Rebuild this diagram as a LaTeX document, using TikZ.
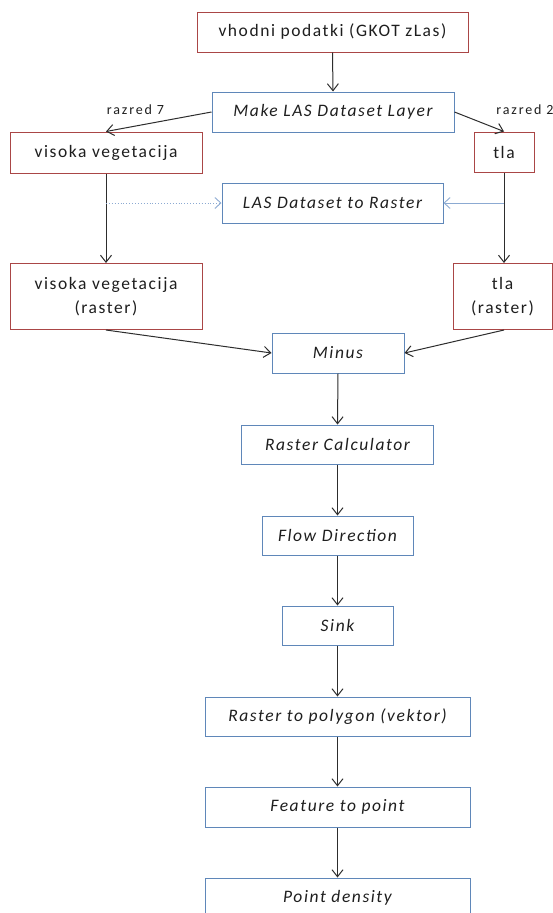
\documentclass[tikz,border=0pt]{standalone}
\usepackage{fontspec}
\setmainfont{Carlito}
\newfontfamily\boxfont[LetterSpace=9]{Carlito}
\newfontfamily\lblfont[LetterSpace=13]{Carlito}
\usetikzlibrary{arrows.meta,calc}
\definecolor{boxred}{RGB}{170,70,70}
\definecolor{boxblue}{RGB}{95,135,185}
\definecolor{arrowgray}{RGB}{45,45,45}
\definecolor{lightarrow}{RGB}{140,170,210}
\definecolor{txtcol}{RGB}{30,30,30}
\begin{document}
\begin{tikzpicture}[x=1pt,y=-1pt,
  redbox/.style={draw=boxred,line width=1pt,fill=white,inner sep=0pt,align=center,
    text=txtcol,font=\boxfont\fontsize{17.5}{24.5}\selectfont},
  bluebox/.style={draw=boxblue,line width=1pt,fill=white,inner sep=0pt,align=center,
    text=txtcol,font=\boxfont\fontsize{17.5}{20}\selectfont\itshape},
  lbl/.style={inner sep=0pt,text=txtcol,font=\lblfont\fontsize{14}{16}\selectfont},
  arr/.style={draw=arrowgray,line width=1pt,-{Straight Barb[length=7pt,width=11pt]}},
  larr/.style={draw=lightarrow,line width=0.9pt,-{Straight Barb[length=6pt,width=11pt]}}
]
\useasboundingbox (0,0) rectangle (553,913);
\clip (0,0) rectangle (553,913);
\fill[white] (0,0) rectangle (553,913);

\node[redbox,minimum width=271pt,minimum height=40pt] (vh) at (332.5,32) {vhodni podatki (GKOT zLas)};
\node[bluebox,minimum width=242pt,minimum height=40pt] (make) at (333,112) {Make LAS Dataset Layer};
\node[redbox,minimum width=192pt,minimum height=41pt] (vv) at (106,152.5) {visoka vegetacija};
\node[redbox,minimum width=60pt,minimum height=40pt] (tla) at (504,152) {tla};
\node[bluebox,minimum width=221pt,minimum height=40pt] (lasr) at (332.5,203) {LAS Dataset to Raster};
\node[redbox,minimum width=192pt,minimum height=66pt] (vvr) at (106,296.5) {visoka vegetacija\\(raster)};
\node[redbox,minimum width=99pt,minimum height=66pt] (tlar) at (502.5,296.5) {tla\\(raster)};
\node[bluebox,minimum width=132pt,minimum height=40pt] (minus) at (338,353) {Minus};
\node[bluebox,minimum width=192pt,minimum height=39pt] (calc) at (337.5,444.5) {Raster Calculator};
\node[bluebox,minimum width=151pt,minimum height=39pt] (flow) at (337.5,535.5) {Flow Direction};
\node[bluebox,minimum width=111pt,minimum height=39pt] (sink) at (337.5,625.5) {Sink};
\node[bluebox,minimum width=265pt,minimum height=39pt] (poly) at (337.5,716.5) {Raster to polygon (vektor)};
\node[bluebox,minimum width=265pt,minimum height=40pt] (feat) at (337.5,807) {Feature to point};
\node[bluebox,minimum width=265pt,minimum height=40pt] (dens) at (337.5,898) {Point density};

\node[lbl] (r7) at (135.5,110) {razred 7};
\node[lbl] (r2) at (525,110) {razred 2};

\draw[arr] (vh.south) -- (make.north);
\draw[arr] (make.west) -- (vv.north);
\draw[arr] (make.east) -- (tla.north);
\draw[arr] (vv.south) -- (vvr.north);
\draw[arr] (tla.south) -- (tla.south |- tlar.north);
\draw[larr,dotted] (vv.south |- lasr.west) -- (lasr.west);
\draw[larr] (tla.south |- lasr.east) -- (lasr.east);
\draw[arr] (vvr.south) -- (minus.west);
\draw[arr] (tla.south |- tlar.south) -- (minus.east);
\draw[arr] (minus.south) -- (calc.north);
\draw[arr] (calc.south) -- (flow.north);
\draw[arr] (flow.south) -- (sink.north);
\draw[arr] (sink.south) -- (poly.north);
\draw[arr] (poly.south) -- (feat.north);
\draw[arr] (feat.south) -- (dens.north);
\end{tikzpicture}
\end{document}
